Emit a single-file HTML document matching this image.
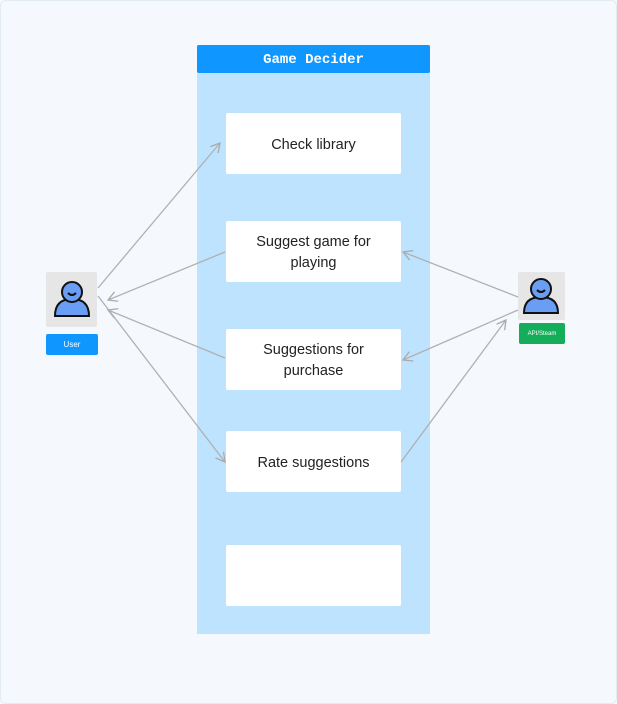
<!DOCTYPE html><html><head><style>
body{margin:0;width:617px;height:704px;background:#f5f9fd;font-family:"Liberation Sans",sans-serif;position:relative;overflow:hidden}
.b{position:absolute;left:226px;width:175px;height:61px;padding-top:3px;box-sizing:border-box;background:#fff;border-radius:2px;display:flex;align-items:center;justify-content:center;text-align:center;font-size:14.5px;color:#222;line-height:21px}
</style></head><body>
<div style="position:absolute;left:0;top:0;width:615px;height:702px;border:1px solid #e3ebf3;border-radius:6px"></div>
<div style="position:absolute;left:197px;top:45px;width:233px;height:589px;background:#bde3fe"></div>
<div style="position:absolute;left:197px;top:45px;width:233px;height:28px;background:#0f97ff;border-radius:2px;color:#fff;font-family:'Liberation Mono',monospace;font-weight:bold;font-size:14px;display:flex;align-items:center;justify-content:center;padding-top:2px;box-sizing:border-box">Game Decider</div>
<div class="b" style="top:113px">Check library</div>
<div class="b" style="top:221px">Suggest game for<br>playing</div>
<div class="b" style="top:329px">Suggestions for<br>purchase</div>
<div class="b" style="top:431px">Rate suggestions</div>
<div class="b" style="top:545px"></div>
<div style="position:absolute;left:46px;top:272px;width:51px;height:55px;background:#e6e6e6;border-radius:2px"></div>
<div style="position:absolute;left:46px;top:334px;width:52px;height:21px;background:#0f97ff;border-radius:2px;color:#fff;font-size:8px;display:flex;align-items:center;justify-content:center">User</div>
<div style="position:absolute;left:518px;top:272px;width:47px;height:48px;background:#e6e6e6;border-radius:2px"></div>
<div style="position:absolute;left:519px;top:323px;width:46px;height:21px;background:#14ad5a;border-radius:2px;color:#fff;font-size:6px;display:flex;align-items:center;justify-content:center">API/Steam</div>
<svg width="617" height="704" style="position:absolute;left:0;top:0">
<defs><marker id="a" markerWidth="12" markerHeight="12" refX="10" refY="6" orient="auto" markerUnits="userSpaceOnUse"><path d="M1,1 L10,6 L1,11" fill="none" stroke="#aaa" stroke-width="1.3"/></marker></defs>
<g stroke="#b0b0b0" stroke-width="1.3" fill="none">
<line x1="98" y1="288" x2="220" y2="143" marker-end="url(#a)"/>
<line x1="225" y1="252" x2="108" y2="300" marker-end="url(#a)"/>
<line x1="225" y1="358" x2="108" y2="310" marker-end="url(#a)"/>
<line x1="98" y1="296" x2="225" y2="462" marker-end="url(#a)"/>
<line x1="518" y1="297" x2="403" y2="252" marker-end="url(#a)"/>
<line x1="518" y1="310" x2="403" y2="360" marker-end="url(#a)"/>
<line x1="401" y1="462" x2="506" y2="320" marker-end="url(#a)"/>
</g>
<g fill="#6a9ef5" stroke="#111" stroke-width="2">
<path d="M55,316 Q55,299 72,299 Q89,299 89,316 Z"/><circle cx="72" cy="292" r="10"/>
<path d="M68,293 Q72,297 76,293" fill="none"/>
<path d="M524,313 Q524,297 541,297 Q558,297 558,313 Z"/><circle cx="541" cy="289" r="10"/>
<path d="M537,290 Q541,294 545,290" fill="none"/>
</g></svg>
</body></html>
